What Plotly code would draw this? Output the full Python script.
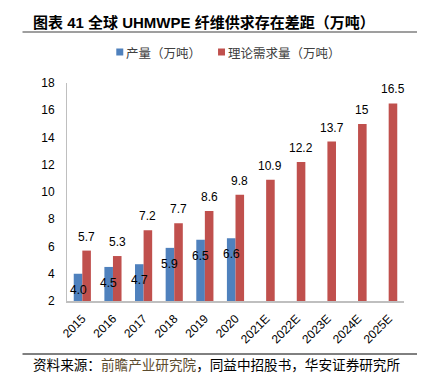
import plotly.graph_objects as go

categories = ["2015", "2016", "2017", "2018", "2019", "2020",
              "2021E", "2022E", "2023E", "2024E", "2025E"]
production = [4.0, 4.5, 4.7, 5.9, 6.5, 6.6, None, None, None, None, None]
demand = [5.7, 5.3, 7.2, 7.7, 8.6, 9.8, 10.9, 12.2, 13.7, 15, 16.5]
demand_labels = ["5.7", "5.3", "7.2", "7.7", "8.6", "9.8", "10.9", "12.2", "13.7", "15", "16.5"]
production_labels = ["4.0", "4.5", "4.7", "5.9", "6.5", "6.6"]

name_prod = "产量（万吨）"
name_dem = "理论需求量（万吨）"
title_text = "图表 41 全球 UHMWPE 纤维供求存在差距（万吨）"
source_parts = ["资料来源：", "前瞻产业研究院", "，同益中招股书，华安证券研究所"]

W, H = 425, 373
L, R, T, B = 58.6, 28.6, 75, 80
pw, ph = W - L - R, H - T - B

def px_x(px):
    return (px - L) / pw

def px_y(py):
    return (H - B - py) / ph

BLUE = "#4F81BD"
RED = "#C0504D"
FONT = "Liberation Sans, Arial, Noto Sans CJK SC, sans-serif"
CJK = "Noto Sans CJK SC, sans-serif"

fig = go.Figure()
fig.add_trace(go.Bar(x=categories, y=production, name=name_prod,
                     marker=dict(color=BLUE, line=dict(width=0)), showlegend=False))
fig.add_trace(go.Bar(x=categories, y=demand, name=name_dem,
                     marker=dict(color=RED, line=dict(width=0)), showlegend=False))

ann = []
for i, (v, t) in enumerate(zip(production, production_labels)):
    ann.append(dict(x=i, y=v, xref="x", yref="y", text=t, showarrow=False,
                    xshift=-4.3, yshift=-16, yanchor="middle", xanchor="center",
                    font=dict(family=FONT, size=12, color="#000000")))
for i, (v, t) in enumerate(zip(demand, demand_labels)):
    ann.append(dict(x=i, y=v, xref="x", yref="y", text=t, showarrow=False,
                    xshift=4.3, yshift=14, yanchor="middle", xanchor="center",
                    font=dict(family=FONT, size=12, color="#000000")))

# legend (manual)
ann.append(dict(x=px_x(116), y=px_y(44), xref="paper", yref="paper", text=name_prod,
                showarrow=False, xanchor="left", yanchor="middle",
                font=dict(family=CJK, size=12.5, color="#404040")))
ann.append(dict(x=px_x(218), y=px_y(44), xref="paper", yref="paper", text=name_dem,
                showarrow=False, xanchor="left", yanchor="middle",
                font=dict(family=CJK, size=12.5, color="#404040")))
# source
source_html = (source_parts[0] + "<span style='color:#5C4B2E'>" + source_parts[1]
               + "</span>" + source_parts[2])
ann.append(dict(x=px_x(24), y=px_y(356), xref="paper", yref="paper", text=source_html,
                showarrow=False, xanchor="left", yanchor="middle", borderpad=0,
                font=dict(family=CJK, size=13.6, color="#000000")))

shapes = [
    dict(type="rect", xref="paper", yref="paper", x0=px_x(108), x1=px_x(115),
         y0=px_y(47.5), y1=px_y(40.5), fillcolor=BLUE, line=dict(width=0)),
    dict(type="rect", xref="paper", yref="paper", x0=px_x(210), x1=px_x(217),
         y0=px_y(47.5), y1=px_y(40.5), fillcolor=RED, line=dict(width=0)),
    dict(type="line", xref="paper", yref="paper", x0=px_x(14), x1=px_x(425),
         y0=px_y(24), y1=px_y(24), line=dict(color="#7F7F7F", width=1.5)),
    dict(type="line", xref="paper", yref="paper", x0=px_x(14), x1=px_x(425),
         y0=px_y(346), y1=px_y(346), line=dict(color="#000000", width=1)),
]

fig.update_layout(
    width=W, height=H,
    margin=dict(l=L, r=R, t=T, b=B, pad=0),
    paper_bgcolor="white", plot_bgcolor="white",
    barmode="group", bargap=0.44, bargroupgap=0,
    title=dict(text="<b>" + title_text + "</b>", x=25 / W, xanchor="left",
               y=1 - 15 / H, yanchor="middle", xref="container", yref="container",
               font=dict(family=FONT, size=15, color="#000000")),
    annotations=ann,
    shapes=shapes,
    xaxis=dict(type="category", range=[-0.5, len(categories) - 0.5],
               showline=True, linecolor="#BFBFBF", linewidth=2,
               tickangle=-45, ticks="", showgrid=False, ticklabelstandoff=4,
               tickfont=dict(family=FONT, size=12, color="#000000")),
    yaxis=dict(range=[2, 18], dtick=2, tick0=2, showline=True, linecolor="#BFBFBF",
               linewidth=1, ticks="", showgrid=False, zeroline=False,
               ticklabelstandoff=9,
               tickfont=dict(family=FONT, size=12, color="#000000")),
)

fig.write_html("out.html")
